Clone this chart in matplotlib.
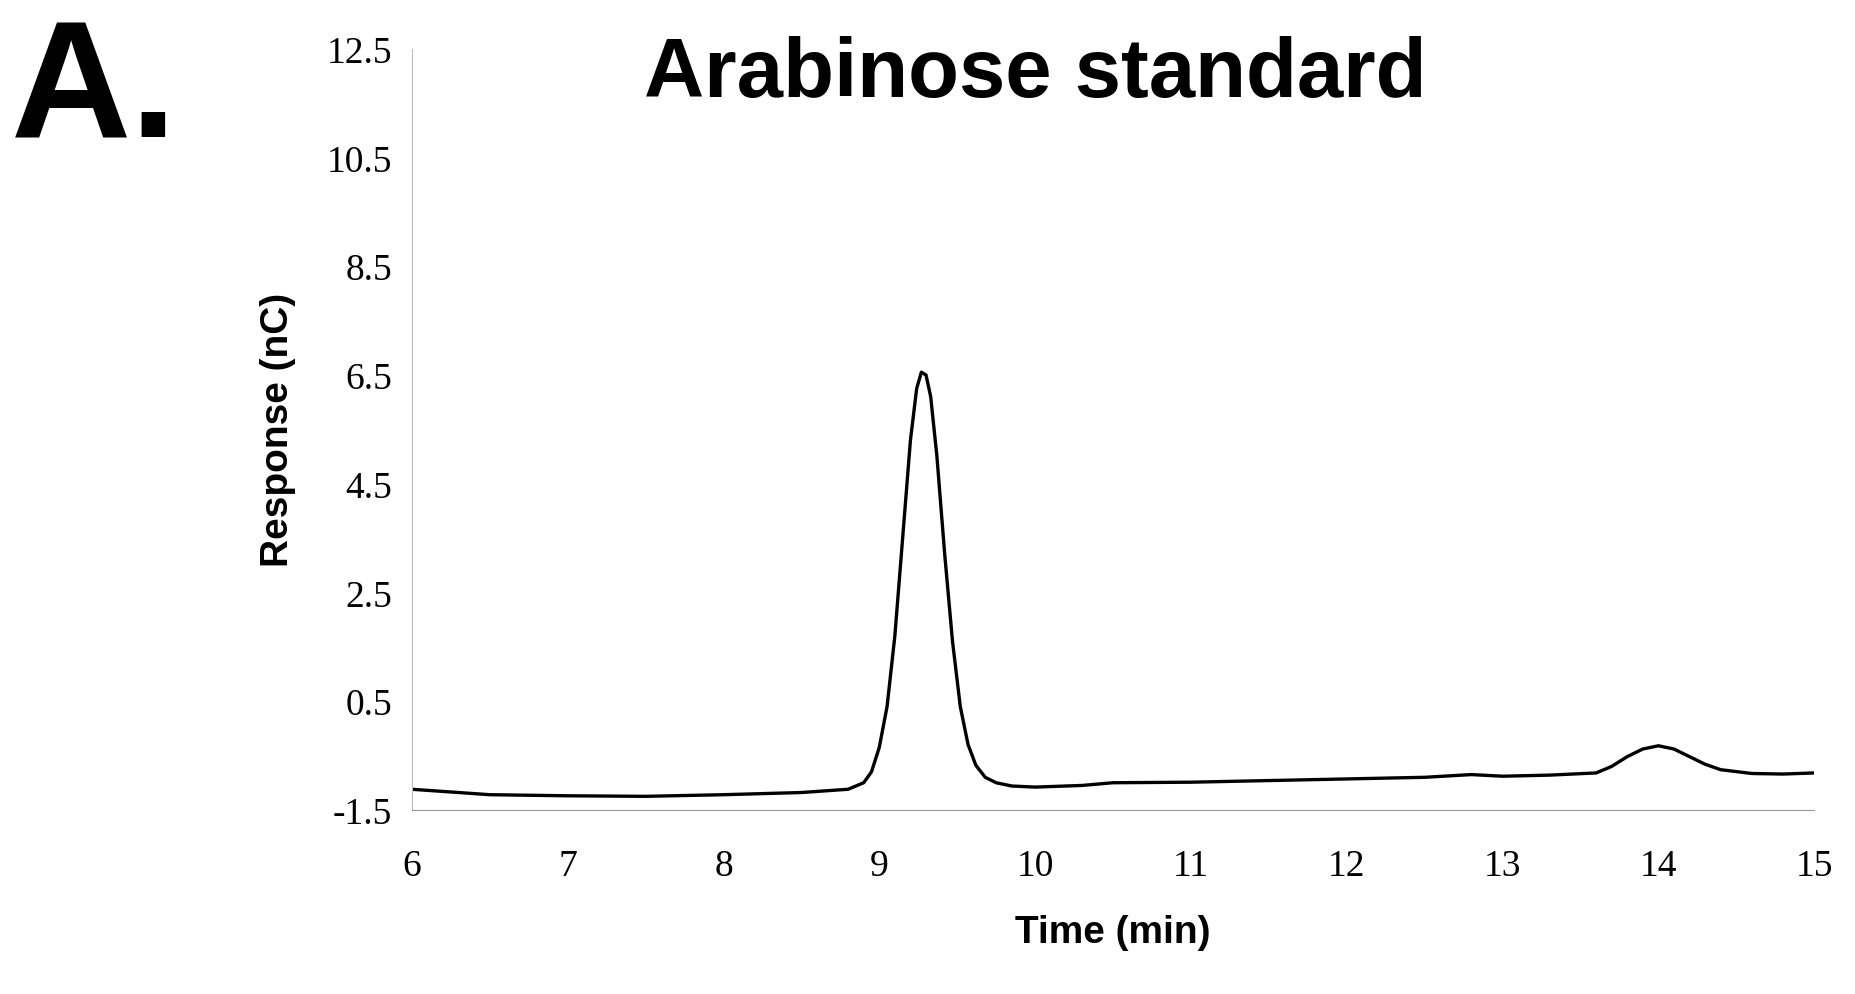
import matplotlib
matplotlib.use("Agg")
import matplotlib.pyplot as plt

time_min = [6.0, 6.5, 7.0, 7.5, 8.0, 8.5, 8.8, 8.9, 8.95, 9.0, 9.05, 9.1, 9.15, 9.2, 9.24, 9.27, 9.3, 9.33, 9.37, 9.42,
            9.47, 9.52, 9.57, 9.62, 9.68, 9.75, 9.85, 10.0, 10.3, 10.5, 11.0, 11.5, 12.0, 12.5, 12.8, 13.0, 13.3,
            13.6, 13.7, 13.8, 13.9, 14.0, 14.1, 14.2, 14.3, 14.4, 14.6, 14.8, 15.0]
response = [-1.12, -1.22, -1.24, -1.25, -1.22, -1.18, -1.12, -1.0, -0.8, -0.35, 0.4, 1.7, 3.5, 5.3, 6.25, 6.55, 6.5, 6.1,
            5.0, 3.2, 1.6, 0.4, -0.3, -0.68, -0.9, -1.0, -1.06, -1.08, -1.05, -1.0, -0.99, -0.96, -0.93, -0.9, -0.85,
            -0.88, -0.86, -0.82, -0.7, -0.52, -0.38, -0.32, -0.38, -0.52, -0.66, -0.76, -0.83, -0.84, -0.82]
xticks = [6, 7, 8, 9, 10, 11, 12, 13, 14, 15]
yticks = [-1.5, 0.5, 2.5, 4.5, 6.5, 8.5, 10.5, 12.5]

fig = plt.figure(figsize=(18.55, 9.95), dpi=100)
ax = fig.add_axes([0.222, 0.185, 0.756, 0.765])
ax.plot(time_min, response, color="black", lw=2.4, solid_joinstyle="round")
ax.set_xlim(6, 15)
ax.set_ylim(-1.5, 12.5)
ax.set_xticks(xticks)
ax.set_yticks(yticks)
ax.set_yticklabels([f"{v:.1f}" for v in yticks])
for s in ["top", "right"]:
    ax.spines[s].set_visible(False)
ax.spines["left"].set_color("#bbbbbb")
ax.spines["bottom"].set_color("#999999")
ax.tick_params(axis="y", length=0, labelsize=27, pad=14)
ax.tick_params(axis="x", length=0, labelsize=27, pad=28)
for t in ax.get_xticklabels() + ax.get_yticklabels():
    t.set_family("Liberation Serif")
ax.set_xlabel("Time (min)", fontsize=28, fontweight="bold", labelpad=22, family="Liberation Sans")
ax.set_ylabel("Response (nC)", fontsize=28, fontweight="bold", labelpad=22, family="Liberation Sans")
fig.text(0.558, 0.925, "Arabinose standard", ha="center", va="center", fontsize=60, fontweight="bold",
         family="Liberation Sans")
fig.text(0.006, 0.905, "A.", ha="left", va="center", fontsize=120, fontweight="bold", family="Liberation Sans")
fig.savefig("out.png", dpi=100)
